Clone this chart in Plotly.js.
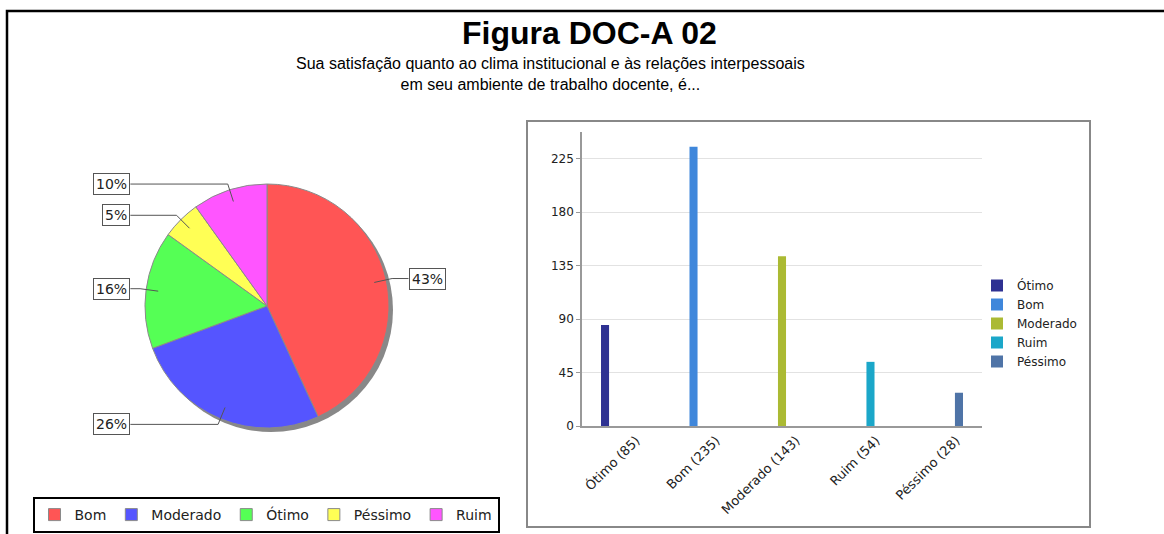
<!DOCTYPE html>
<html>
<head>
<meta charset="utf-8">
<script src="https://cdn.plot.ly/plotly-3.0.1.min.js"></script>
<style>
  html, body { margin: 0; padding: 0; background: #fff; overflow: hidden; width: 1164px; height: 534px; }
  #chart { width: 1164px; height: 534px; overflow: hidden; }
</style>
</head>
<body>
<div id="chart"></div>
<script>
// ---- data ----
const categories = ['Ótimo', 'Bom', 'Moderado', 'Ruim', 'Péssimo'];
const counts = [85, 235, 143, 54, 28];
const barColors = ['#2e3192', '#3f87db', '#abba33', '#1ba7c9', '#4f74a7'];
const pieOrder = ['Bom', 'Moderado', 'Ótimo', 'Péssimo', 'Ruim'];
const pieColors = ['#ff5555', '#5555ff', '#55ff55', '#ffff55', '#ff55ff'];
const yTicks = [0, 45, 90, 135, 180, 225];
const titleText = 'Figura DOC-A 02';
const subtitleText = 'Sua satisfação quanto ao clima institucional e às relações interpessoais<br>em seu ambiente de trabalho docente, é...';

// ---- geometry helpers ----
const W = 1164, H = 534;
const px = x => x / W;
const py = y => 1 - y / H;

const pieValues = pieOrder.map(n => counts[categories.indexOf(n)]);
const total = pieValues.reduce((a, b) => a + b, 0);
const tickLabels = categories.map((c, i) => `${c} (${counts[i]})`);

// pie placement (pixels)
const cx = 267, cy = 306, R = 122;

const traces = [];
traces.push({
  type: 'pie',
  labels: pieOrder,
  values: pieValues,
  sort: false,
  direction: 'clockwise',
  rotation: 0,
  marker: { colors: pieColors, line: { color: '#8a8a8a', width: 1 } },
  textinfo: 'none',
  hoverinfo: 'label+percent',
  domain: { x: [px(cx - R), px(cx + R)], y: [py(cy + R), py(cy - R)] },
  legend: 'legend',
  showlegend: true
});

categories.forEach((c, i) => {
  traces.push({
    type: 'bar',
    name: c,
    x: tickLabels,
    y: counts.map((v, j) => (j === i ? v : null)),
    marker: { color: barColors[i], line: { width: 0 } },
    xaxis: 'x',
    yaxis: 'y',
    legend: 'legend2',
    hoverinfo: 'x+y'
  });
});

// pie labels and leader lines computed from the data
const annotations = [];
const shapes = [];

// outer frame
shapes.push({ type: 'rect', xref: 'paper', yref: 'paper', x0: px(7), x1: px(1175), y0: py(545), y1: py(11),
  line: { color: '#000', width: 2.5 }, layer: 'below' });
// bar chart panel
shapes.push({ type: 'rect', xref: 'paper', yref: 'paper', x0: px(527), x1: px(1090), y0: py(527), y1: py(121),
  line: { color: '#888', width: 2 }, layer: 'below' });
// pie shadow
shapes.push({ type: 'circle', xref: 'paper', yref: 'paper', x0: px(cx - R + 4), x1: px(cx + R + 4), y0: py(cy + R + 4), y1: py(cy - R + 4),
  fillcolor: '#888', line: { width: 0 }, layer: 'below' });

let cum = 0;
pieValues.forEach((v, i) => {
  const frac = v / total;
  const mid = (cum + frac / 2) * 2 * Math.PI;
  cum += frac;
  const s = Math.sin(mid), c = Math.cos(mid);
  const ax = cx + 0.9 * R * s, ay = cy - 0.9 * R * c;
  const ex = cx + 1.05 * R * s, ey = cy - 1.05 * R * c;
  const right = s > 0;
  const lx = right ? cx + 1.16 * R : cx - 1.12 * R;
  shapes.push({ type: 'path', xref: 'paper', yref: 'paper',
    path: `M ${px(lx)} ${py(ey)} L ${px(ex)} ${py(ey)} L ${px(ax)} ${py(ay)}`,
    line: { color: '#555', width: 1 } });
  annotations.push({
    xref: 'paper', yref: 'paper', x: px(lx), y: py(ey),
    xanchor: right ? 'left' : 'right', yanchor: 'middle',
    text: Math.round(frac * 100) + '%', showarrow: false,
    font: { family: 'DejaVu Sans', size: 14, color: '#222' },
    bgcolor: '#fff', bordercolor: '#555', borderwidth: 1, borderpad: 2
  });
});

annotations.push({
  xref: 'paper', yref: 'paper', x: px(589), y: py(33), xanchor: 'center', yanchor: 'middle',
  text: '<b>' + titleText + '</b>', showarrow: false,
  font: { family: 'Liberation Sans', size: 32, color: '#000' }
});
annotations.push({
  xref: 'paper', yref: 'paper', x: px(550), y: py(74), xanchor: 'center', yanchor: 'middle',
  text: subtitleText, showarrow: false,
  font: { family: 'Liberation Sans', size: 16, color: '#000' }
});

const layout = {
  width: W, height: H,
  margin: { l: 0, r: 0, t: 0, b: 0, autoexpand: false },
  paper_bgcolor: '#fff',
  plot_bgcolor: '#fff',
  barmode: 'group',
  bargap: 0.47,
  bargroupgap: 0.05,
  xaxis: {
    domain: [px(582), px(982)],
    type: 'category',
    tickangle: -45,
    ticklabelshift: 14,
    showline: true, linecolor: '#999', linewidth: 1.5,
    showgrid: false, ticks: '',
    tickfont: { family: 'DejaVu Sans', size: 13, color: '#222' },
    fixedrange: true
  },
  yaxis: {
    domain: [py(426), py(132)],
    range: [0, 247.5],
    tickvals: yTicks,
    showline: true, linecolor: '#999', linewidth: 1.5,
    ticks: 'outside', ticklen: 4, tickcolor: '#999',
    gridcolor: '#e2e2e2', zeroline: false,
    tickfont: { family: 'DejaVu Sans', size: 12, color: '#222' },
    fixedrange: true
  },
  legend: {
    orientation: 'h',
    x: px(266), xanchor: 'center',
    y: py(515), yanchor: 'middle',
    bordercolor: '#000', borderwidth: 2, bgcolor: '#fff',
    font: { family: 'DejaVu Sans', size: 14, color: '#222' },
    itemwidth: 30
  },
  legend2: {
    x: px(977), xanchor: 'left',
    y: py(271), yanchor: 'top',
    bgcolor: 'rgba(0,0,0,0)',
    font: { family: 'DejaVu Sans', size: 12, color: '#222' },
    tracegroupgap: 0
  },
  shapes: shapes,
  annotations: annotations,
  showlegend: true
};

Plotly.newPlot('chart', traces, layout, { displayModeBar: false, staticPlot: false });
</script>
</body>
</html>
